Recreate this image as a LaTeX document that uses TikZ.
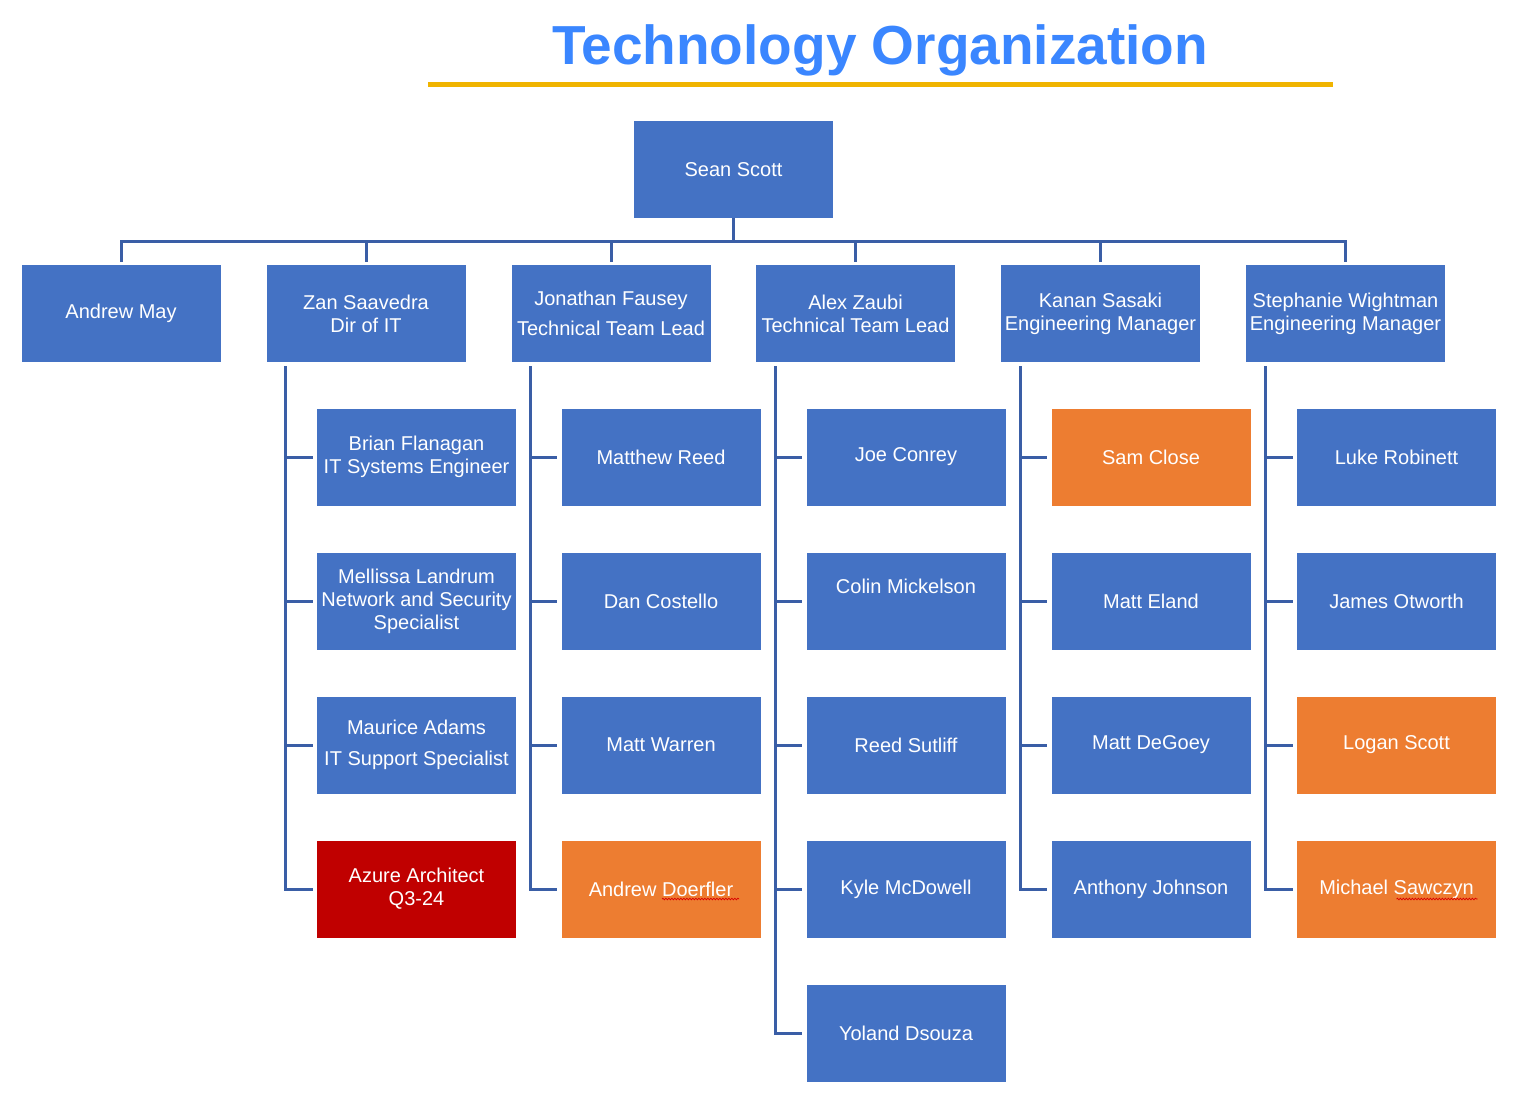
\documentclass[tikz,border=0pt]{standalone}
\usepackage{fontspec}
\setmainfont{Liberation Sans}
\usetikzlibrary{calc,decorations.pathmorphing}
\definecolor{boxblue}{RGB}{68,114,196}
\definecolor{boxorange}{RGB}{237,125,49}
\definecolor{boxred}{RGB}{192,0,0}
\definecolor{lineblue}{RGB}{58,94,166}
\definecolor{titleblue}{RGB}{58,134,255}
\definecolor{gold}{RGB}{240,180,0}
\tikzset{
  box/.style={fill=boxblue, text=white, minimum width=199pt, minimum height=97pt,
    inner sep=0pt, align=center, font=\fontsize{20}{23}\selectfont},
  orangebox/.style={box, fill=boxorange},
  redbox/.style={box, fill=boxred},
  conn/.style={draw=lineblue, line width=3pt},
  squig/.style={draw=red!85!black, line width=0.7pt, decorate,
    decoration={snake, segment length=3pt, amplitude=0.8pt}}
}
\begin{document}
\begin{tikzpicture}[x=1pt,y=-1pt]
\useasboundingbox (0,0) rectangle (1520,1099);
% title
\node[anchor=base, text=titleblue, inner sep=0pt, font=\fontsize{55}{60}\selectfont\bfseries] (title) at (880,65) {Technology Organization};
\draw[gold, line width=5pt] (428,85) coordinate (ulL) -- (1333,85) coordinate (ulR);
% top
\node[box] (sean) at (733.5,169.5) {Sean Scott};
% level 1
\node[box] (andrew) at (121,313.5) {Andrew May};
\node[box] (zan) at (366,313.5) {Zan Saavedra\\Dir of IT};
\node[box] (jon) at (611,313.5) {Jonathan Fausey\\[7pt]Technical Team Lead};
\node[box] (alex) at (855.5,313.5) {Alex Zaubi\\Technical Team Lead};
\node[box] (kanan) at (1100.5,313.5) {Kanan Sasaki\\Engineering Manager};
\node[box] (steph) at (1345.5,313.5) {Stephanie Wightman\\Engineering Manager};
% Zan children
\node[box] (brian) at (416.5,457) {Brian Flanagan\\IT Systems Engineer};
\node[box] (mell) at (416.5,601) {Mellissa Landrum\\Network and Security\\Specialist};
\node[box] (maur) at (416.5,745) {Maurice Adams\\[8pt]IT Support Specialist};
\node[redbox] (azure) at (416.5,889) {Azure Architect\\Q3-24};
% Jonathan children
\node[box] (matthew) at (661,457) {Matthew Reed};
\node[box] (dan) at (661,601) {Dan Costello};
\node[box] (warren) at (661,745) {Matt Warren};
\node[orangebox] (doer) at (661,889) {Andrew Doerfler};
% Alex children
\node[box] (joe) at (906,457) {Joe Conrey};
\node[box] (colin) at (906,601) {Colin Mickelson\\\strut};
\node[box] (reed) at (906,745) {Reed Sutliff};
\node[box] (kyle) at (906,889) {Kyle McDowell};
\node[box] (yoland) at (906,1033) {Yoland Dsouza};
% Kanan children
\node[orangebox] (sam) at (1151,457) {Sam Close};
\node[box] (eland) at (1151,601) {Matt Eland};
\node[box] (degoey) at (1151,745) {Matt DeGoey};
\node[box] (anthony) at (1151,889) {Anthony Johnson};
% Stephanie children
\node[box] (luke) at (1396.5,457) {Luke Robinett};
\node[box] (james) at (1396.5,601) {James Otworth};
\node[orangebox] (logan) at (1396.5,745) {Logan Scott};
\node[orangebox] (michael) at (1396.5,889) {Michael Sawczyn};
% spell-check marks
\draw[squig] ($(doer.center)+(1,10)$) -- ($(doer.center)+(78,10)$);
\draw[squig] ($(michael.center)+(0,10)$) -- ($(michael.center)+(81,10)$);
% top connectors
\coordinate (bus) at ([yshift=-23pt]sean.south);
\draw[conn] (sean.south) -- (bus);
\foreach \m in {andrew,zan,jon,alex,kanan,steph}{
  \draw[conn] (bus) -| ([yshift=3pt]\m.north);
}
% child connectors
\foreach \m/\kids in {zan/{brian,mell,maur,azure},jon/{matthew,dan,warren,doer},alex/{joe,colin,reed,kyle,yoland},kanan/{sam,eland,degoey,anthony},steph/{luke,james,logan,michael}}{
  \coordinate (\m bus) at ([xshift=19.5pt,yshift=-4pt]\m.south west);
  \foreach \k in \kids {
    \draw[conn] (\m bus) |- ([xshift=-4pt]\k.west);
  }
}
\end{tikzpicture}
\end{document}
